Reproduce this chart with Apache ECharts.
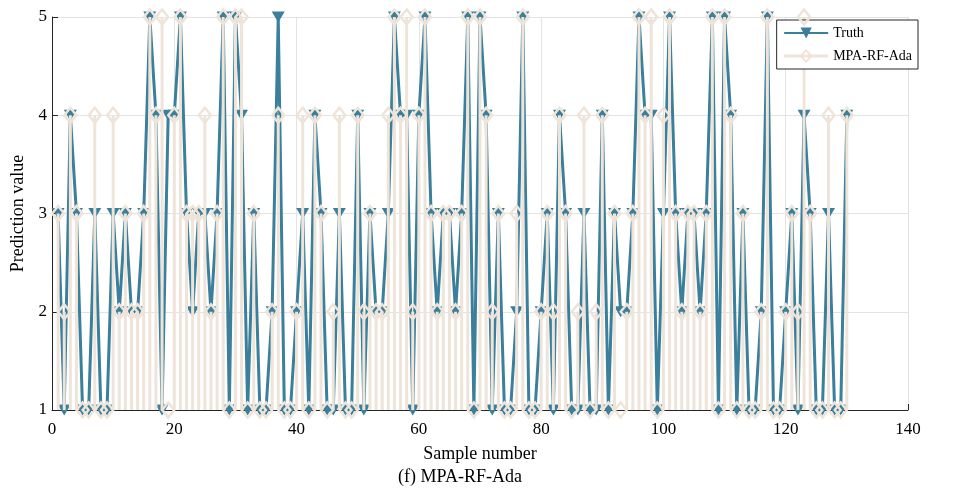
<!DOCTYPE html>
<html><head><meta charset="utf-8">
<script src="https://cdn.jsdelivr.net/npm/echarts@6/dist/echarts.min.js"></script>
<style>html,body{margin:0;padding:0;background:#fff}#c{width:976px;height:492px}</style>
</head><body><div id="c"></div>
<script>
const truth = [3,1,4,3,1,1,3,1,1,3, 2,3,2,2,3,5,4,1,4,4, 5,3,2,3,3,2,3,5,1,5,
  4,1,3,1,1,2,5,1,1,2, 3,1,4,3,1,1,3,1,1,4, 1,3,2,2,3,5,4,4,1,4,
  5,3,2,3,3,2,3,5,1,5, 4,1,3,1,1,2,5,1,1,2, 3,1,4,3,1,1,3,1,1,4,
  1,3,2,2,3,5,4,4,1,3, 5,3,2,3,3,2,3,5,1,5, 4,1,3,1,1,2,5,1,1,2,
  3,1,4,3,1,1,3,1,1,4];
const pred = [3,2,4,3,1,1,4,1,1,4, 2,3,2,2,3,5,4,5,1,4, 5,3,3,3,4,2,3,5,1,5,
  5,1,3,1,1,2,4,1,1,2, 4,1,4,3,1,2,4,1,1,4, 2,3,2,2,4,5,4,5,2,4,
  5,3,2,3,3,2,3,5,1,5, 4,2,3,1,1,3,5,1,1,2, 3,2,4,3,1,2,4,1,2,4,
  1,3,1,2,3,5,4,5,1,4, 5,3,2,3,3,2,3,5,1,5, 4,1,3,1,1,2,5,1,1,2,
  3,2,5,3,1,1,4,1,1,4];
const xTicks = [0,20,40,60,80,100,120,140];
const yTicks = [1,2,3,4,5];

const BLUE = '#3a7f9b';
const BEIGE = '#efe4d9';
const truthData = truth.map((v,i)=>[i+1,v]);
const predData = pred.map((v,i)=>[i+1,v]);
const FONT = '"Liberation Serif","Times New Roman",serif';

const chart = echarts.init(document.getElementById('c'));
chart.setOption({
  animation:false,
  backgroundColor:'#fff',
  textStyle:{fontFamily:FONT},
  grid:{left:52,right:68,top:17,bottom:82},
  legend:{
    right:58, top:20, orient:'vertical', itemGap:9,
    padding:[6,6,6,6],
    borderColor:'#262626', borderWidth:1, backgroundColor:'#fff',
    itemWidth:44, itemHeight:14,
    textStyle:{fontFamily:FONT,fontSize:14,color:'#000'},
    data:[
      {name:'Truth'},
      {name:'MPA-RF-Ada', lineStyle:{color:BEIGE,width:3,opacity:1}}
    ]
  },
  xAxis:{
    type:'value', min:0, max:140, interval:20,
    name:'Sample number', nameLocation:'middle', nameGap:35,
    nameTextStyle:{fontFamily:FONT,fontSize:18,color:'#000'},
    axisLine:{show:true,lineStyle:{color:'#262626',width:1}},
    axisTick:{show:true,inside:true,length:6,lineStyle:{color:'#262626'}},
    axisLabel:{fontFamily:FONT,fontSize:17,color:'#000',margin:11},
    splitLine:{show:true,lineStyle:{color:'#e3e3e3',width:1}}
  },
  yAxis:{
    type:'value', min:1, max:5, interval:1,
    name:'Prediction value', nameLocation:'middle', nameGap:20,
    nameTextStyle:{fontFamily:FONT,fontSize:18,color:'#000'},
    axisLine:{show:true,lineStyle:{color:'#262626',width:1}},
    axisTick:{show:true,inside:true,length:6,lineStyle:{color:'#262626'}},
    axisLabel:{fontFamily:FONT,fontSize:17,color:'#000',margin:5},
    splitLine:{show:true,lineStyle:{color:'#e3e3e3',width:1}}
  },
  series:[
    {
      name:'Truth', type:'line', data:truthData, z:2,
      symbol:'triangle', symbolRotate:180, symbolSize:[13,11],
      lineStyle:{color:BLUE,width:3},
      itemStyle:{color:BLUE},
      clip:false
    },
    {
      name:'MPA-RF-Ada-stem', type:'custom', data:predData, z:3,
      encode:{x:0,y:1},
      renderItem:function(params,api){
        const x = api.value(0), v = api.value(1);
        const p0 = api.coord([x,1]), p1 = api.coord([x,v]);
        return {type:'line', shape:{x1:p0[0],y1:p0[1],x2:p1[0],y2:p1[1]},
          style:{stroke:BEIGE,lineWidth:3}};
      },
      silent:true
    },
    {
      name:'MPA-RF-Ada', type:'line', data:predData, z:4,
      symbol:'diamond', symbolSize:[12,15],
      lineStyle:{width:0,opacity:0},
      itemStyle:{color:'rgba(255,255,255,0)',borderColor:BEIGE,borderWidth:2.5},
      clip:false
    }
  ],
  graphic:[
    {type:'text', x:460, y:468, z:10,
     style:{text:'(f) MPA-RF-Ada', textAlign:'center', font:'18px "Liberation Serif","Times New Roman",serif', fill:'#000'}}
  ]
});
</script></body></html>
